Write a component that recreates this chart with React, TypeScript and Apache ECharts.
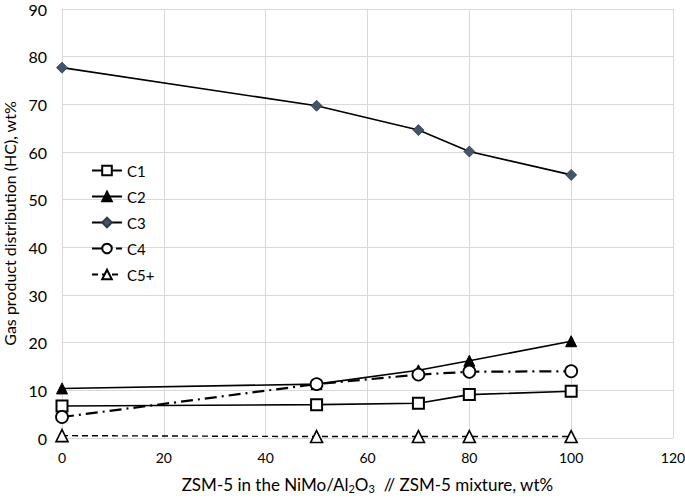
import React, { useEffect, useRef } from "react";
import * as echarts from "echarts";

const xValues = [0, 50, 70, 80, 100];
const c1 = [6.7, 7.0, 7.3, 9.1, 9.8];
const c2 = [10.4, 11.3, 14.2, 16.2, 20.3];
const c3 = [77.7, 69.7, 64.6, 60.1, 55.2];
const c4 = [4.4, 11.3, 13.3, 13.9, 14.0];
const c5 = [0.5, 0.3, 0.3, 0.3, 0.3];

const pair = (ys: number[]) => xValues.map((x, i) => [x, ys[i]]);

const FONT = "Lato";

export default function App() {
  const ref = useRef<HTMLDivElement>(null);
  useEffect(() => {
    const chart = echarts.init(ref.current!, null, { renderer: "svg" });
    const base = { type: "line", showSymbol: true, z: 3 };
    chart.setOption({
      animation: false,
      backgroundColor: "#ffffff",
      textStyle: { fontFamily: FONT },
      grid: { left: 62, right: 12, top: 9, bottom: 63, containLabel: false, outerBoundsMode: "none" },
      legend: {
        orient: "vertical",
        left: 86,
        top: 158,
        itemGap: 11,
        itemWidth: 30,
        itemHeight: 12,
        textStyle: { fontFamily: FONT, fontSize: 15, color: "#000" },
        data: ["C1", "C2", "C3", "C4", "C5+"],
      },
      xAxis: {
        type: "value",
        min: 0,
        max: 120,
        interval: 20,
        name: "{m|ZSM-5 in the NiMo/Al}{sub|2}{m|O}{sub|3}{m|  // ZSM-5 mixture, wt%}",
        nameLocation: "middle",
        nameGap: 36,
        nameTextStyle: {
          fontFamily: FONT,
          fontSize: 17,
          color: "#000",
          rich: {
            m: { fontFamily: FONT, fontSize: 17, lineHeight: 20, color: "#000" },
            sub: { fontFamily: FONT, fontSize: 11, lineHeight: 10, verticalAlign: "bottom", color: "#000" },
          },
        },
        axisLine: { show: true, lineStyle: { color: "#d9d9d9" } },
        axisTick: { show: false },
        axisLabel: { fontFamily: FONT, fontSize: 14, color: "#000", margin: 12 },
        splitLine: { show: true, lineStyle: { color: "#d9d9d9" } },
      },
      yAxis: {
        type: "value",
        min: 0,
        max: 90,
        interval: 10,
        name: "Gas product distribution (HC), wt%",
        nameLocation: "middle",
        nameGap: 35,
        nameTextStyle: { fontFamily: FONT, fontSize: 16, color: "#000" },
        axisLine: { show: true, lineStyle: { color: "#d9d9d9" } },
        axisTick: { show: false },
        axisLabel: { fontFamily: FONT, fontSize: 16, color: "#000", margin: 15 },
        splitLine: { show: true, lineStyle: { color: "#d9d9d9" } },
      },
      series: [
        {
          ...base,
          name: "C1",
          data: pair(c1),
          symbol: "rect",
          symbolSize: 11,
          lineStyle: { color: "#000", width: 1.6, type: "solid" },
          itemStyle: { color: "#ffffff", borderColor: "#000", borderWidth: 2 },
        },
        {
          ...base,
          name: "C2",
          data: pair(c2),
          symbol: "triangle",
          symbolSize: 11,
          lineStyle: { color: "#000", width: 1.6, type: "solid" },
          itemStyle: { color: "#000", borderColor: "#000", borderWidth: 1 },
        },
        {
          ...base,
          name: "C3",
          data: pair(c3),
          symbol: "diamond",
          symbolSize: 11,
          lineStyle: { color: "#000", width: 1.6, type: "solid" },
          itemStyle: { color: "#44546a", borderColor: "#2f3b4c", borderWidth: 0.8 },
        },
        {
          ...base,
          name: "C4",
          data: pair(c4),
          symbol: "circle",
          symbolSize: 12,
          lineStyle: { color: "#000", width: 2.2, type: [12, 5, 2, 5] },
          itemStyle: { color: "#ffffff", borderColor: "#000", borderWidth: 1.8 },
        },
        {
          ...base,
          name: "C5+",
          data: pair(c5),
          symbol: "triangle",
          symbolSize: 12,
          lineStyle: { color: "#000", width: 1.4, type: [6, 4] },
          itemStyle: { color: "#ffffff", borderColor: "#000", borderWidth: 1.6 },
        },
      ],
    });
    return () => chart.dispose();
  }, []);
  return <div ref={ref} style={{ position: "absolute", left: 0, top: 0, width: 685, height: 501 }} />;
}
